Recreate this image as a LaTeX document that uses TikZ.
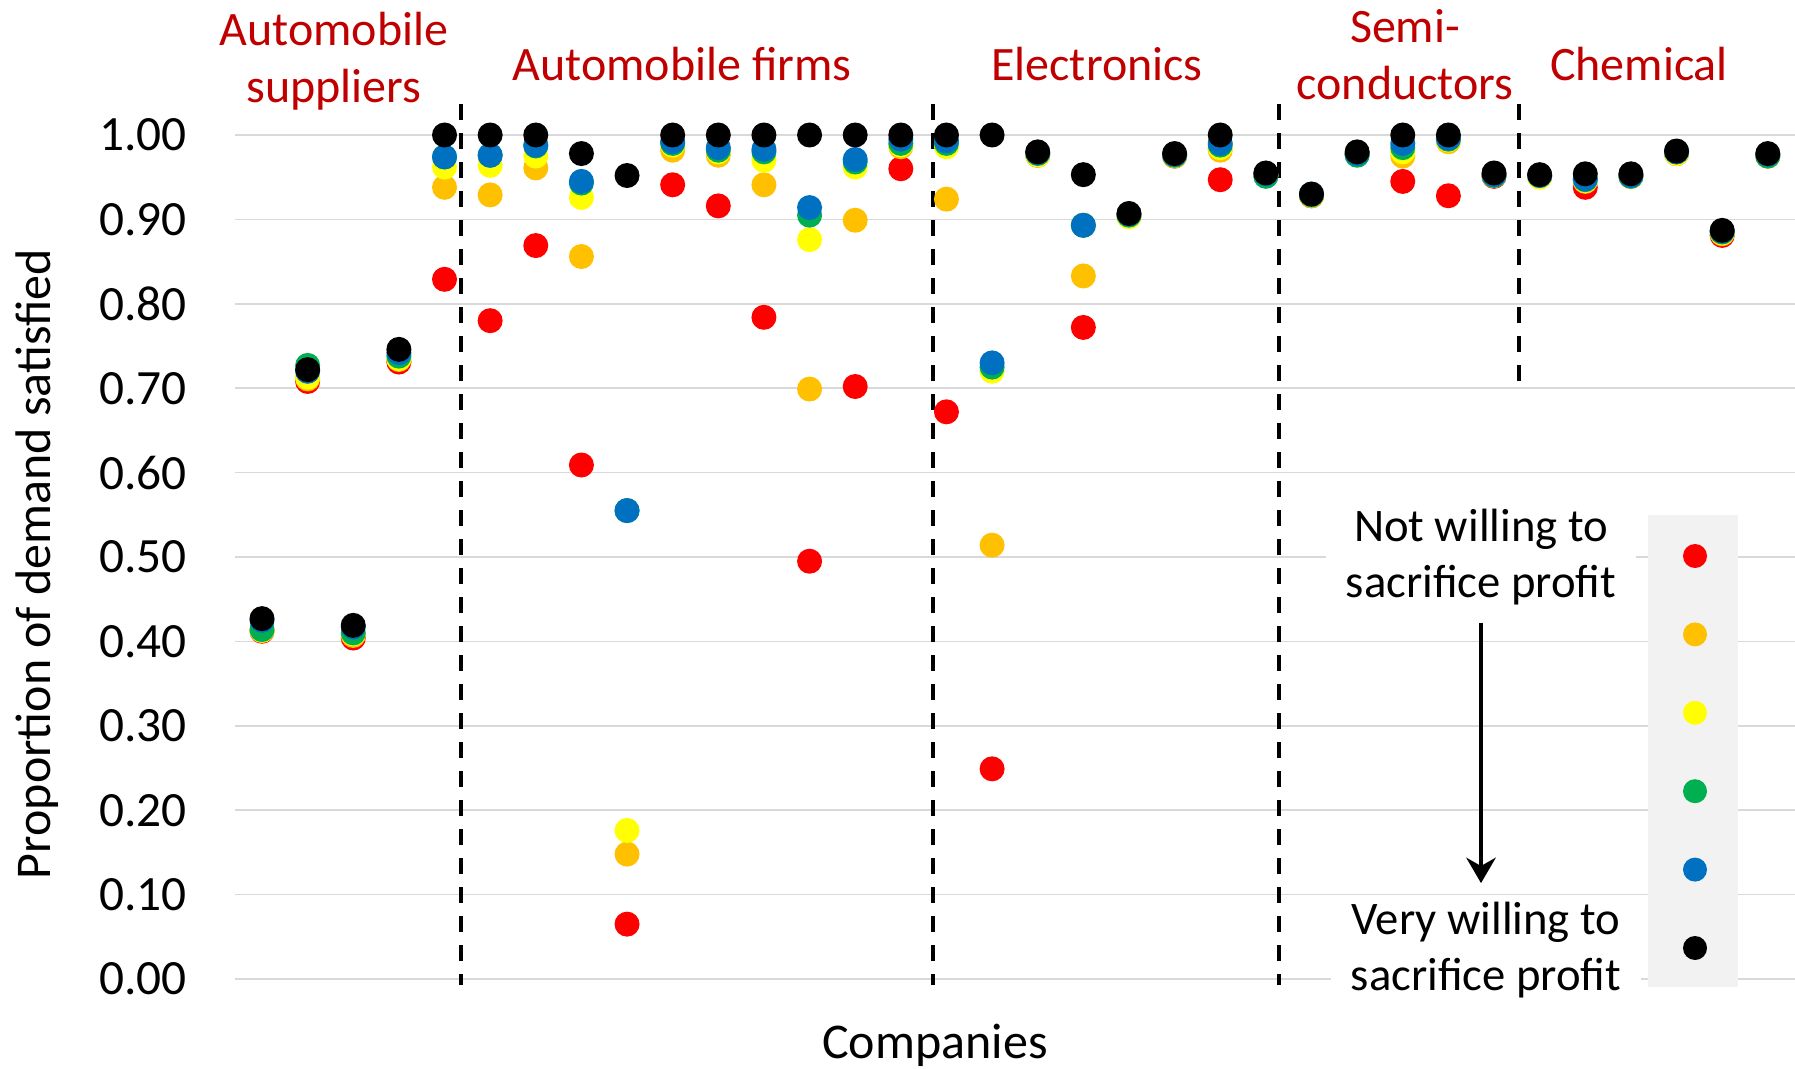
\documentclass[tikz,border=0pt]{standalone}
\usepackage{fontspec}
\setmainfont{Carlito}
\usetikzlibrary{arrows.meta}

\definecolor{ptred}{RGB}{255,0,0}
\definecolor{ptorange}{RGB}{255,192,0}
\definecolor{ptyellow}{RGB}{255,255,0}
\definecolor{ptgreen}{RGB}{0,176,80}
\definecolor{ptblue}{RGB}{0,112,192}
\definecolor{grouplabel}{RGB}{192,0,0}
\definecolor{gridgray}{RGB}{217,217,217}
\definecolor{legendgray}{RGB}{242,242,242}

\tikzset{
  gridline/.style={draw=gridgray, line width=1.3pt},
  divider/.style={line width=2.6pt, dash pattern=on 12pt off 9.75pt},
  ticktext/.style={anchor=east, inner sep=0pt, font=\fontsize{37}{44}\selectfont},
  grouptext/.style={text=grouplabel, align=center, inner sep=0pt, font=\fontsize{36}{43}\selectfont},
  axistext/.style={inner sep=0pt, font=\fontsize{37.5}{45}\selectfont},
  legendtext/.style={fill=white, align=center, inner xsep=15pt, inner ysep=3pt, font=\fontsize{35}{42}\selectfont},
}

\begin{document}
\begin{tikzpicture}[x=0.75pt,y=0.75pt,yscale=-1,xscale=1]
\useasboundingbox (0,0) rectangle (1795,1069);

%Grid lines and tick labels
\foreach \v/\t in {0/0.00,1/0.10,2/0.20,3/0.30,4/0.40,5/0.50,6/0.60,7/0.70,8/0.80,9/0.90,10/1.00} {
  \draw [gridline] (235,{979-84.4*\v}) -- (1795,{979-84.4*\v}) ;
  \node [ticktext] (tick\v) at (187,{979-84.4*\v}) {\t} ;
}

%Axis titles
\node [axistext, rotate=90] (ytitle) at (37,564) {Proportion of demand satisfied} ;
\node [axistext] (xtitle) at (935,1045) {Companies} ;

%Group dividers
\draw [divider] (461,104) -- (461,985) ;
\draw [divider] (933,104) -- (933,985) ;
\draw [divider] (1279,104) -- (1279,985) ;
\draw [divider] (1519,104) -- (1519,382) ;

%Group labels
\node [grouptext] (suppliers) at (334,61) {Automobile\\suppliers} ;
\node [grouptext] (firms) at (682,64) {Automobile firms} ;
\node [grouptext] (electronics) at (1097,64) {Electronics} ;
\node [grouptext] (semis) at (1405,55) {Semi-\\conductors} ;
\node [grouptext] (chemical) at (1639,64) {Chemical} ;

%Red series
\foreach \c/\v in {1/.412,2/.708,3/.404,4/.731,5/.829,6/.780,7/.869,8/.609,9/.065,10/.941,11/.916,12/.784,13/.495,14/.702,15/.960,16/.672,17/.249,18/.976,19/.772,20/.904,21/.975,22/.947,23/.952,24/.928,25/.977,26/.945,27/.928,28/.951,29/.951,30/.938,31/.951,32/.978,33/.881,34/.975}
  \fill [ptred] ({262+45.63*(\c-1)},{979-844*\v}) circle (12.5) ;
%Orange series
\foreach \c/\v in {1/.413,2/.711,3/.407,4/.734,5/.938,6/.929,7/.961,8/.856,9/.148,10/.982,11/.976,12/.941,13/.699,14/.899,15/.986,16/.924,17/.514,18/.977,19/.833,20/.904,21/.975,22/.982,23/.952,24/.928,25/.977,26/.975,27/.992,28/.952,29/.951,30/.945,31/.951,32/.978,33/.883,34/.975}
  \fill [ptorange] ({262+45.63*(\c-1)},{979-844*\v}) circle (12.5) ;
%Yellow series
\foreach \c/\v in {1/.413,2/.713,3/.409,4/.735,5/.962,6/.964,7/.975,8/.926,9/.176,10/.988,11/.980,12/.970,13/.876,14/.962,15/.988,16/.986,17/.720,18/.976,19/.893,20/.903,21/.976,22/.985,23/.952,24/.929,25/.977,26/.980,27/.994,28/.952,29/.950,30/.946,31/.951,32/.978,33/.884,34/.975}
  \fill [ptyellow] ({262+45.63*(\c-1)},{979-844*\v}) circle (12.5) ;
%Green series
\foreach \c/\v in {1/.414,2/.727,3/.410,4/.738,5/.974,6/.976,7/.987,8/.943,9/.555,10/.990,11/.982,12/.980,13/.905,14/.968,15/.990,16/.990,17/.725,18/.978,19/.893,20/.905,21/.976,22/.988,23/.951,24/.929,25/.976,26/.985,27/.995,28/.952,29/.952,30/.947,31/.951,32/.980,33/.885,34/.975}
  \fill [ptgreen] ({262+45.63*(\c-1)},{979-844*\v}) circle (12.5) ;
%Blue series
\foreach \c/\v in {1/.425,2/.720,3/.417,4/.742,5/.974,6/.976,7/.988,8/.945,9/.555,10/.992,11/.985,12/.983,13/.914,14/.971,15/.995,16/.993,17/.730,18/.979,19/.893,20/.906,21/.977,22/.990,23/.954,24/.930,25/.978,26/.990,27/.996,28/.953,29/.952,30/.948,31/.952,32/.980,33/.886,34/.977}
  \fill [ptblue] ({262+45.63*(\c-1)},{979-844*\v}) circle (12.5) ;
%Black series
\foreach \c/\v in {1/.427,2/.722,3/.419,4/.746,5/1,6/1,7/1,8/.978,9/.952,10/1,11/1,12/1,13/1,14/1,15/1,16/1,17/1,18/.980,19/.953,20/.907,21/.978,22/1,23/.955,24/.930,25/.980,26/1,27/1,28/.955,29/.953,30/.954,31/.954,32/.981,33/.887,34/.978}
  \fill [black] ({262+45.63*(\c-1)},{979-844*\v}) circle (12.5) ;

%Legend
\fill [legendgray] (1648,515) rectangle (1738,987) ;
\foreach \i/\col in {0/ptred,1/ptorange,2/ptyellow,3/ptgreen,4/ptblue,5/black}
  \fill [\col] (1695,{556+78.4*\i}) circle (12) ;
\node [legendtext] (notwilling) at (1481,557) {Not willing to\\sacrifice profit} ;
\node [legendtext] (verywilling) at (1486,950) {Very willing to\\sacrifice profit} ;
\draw [-{Stealth[length=19pt,width=22pt]}, line width=3pt, shorten <=10pt, shorten >=11pt] (notwilling.south -| 1481,0) -- (verywilling.north -| 1481,0) ;

\end{tikzpicture}
\end{document}
